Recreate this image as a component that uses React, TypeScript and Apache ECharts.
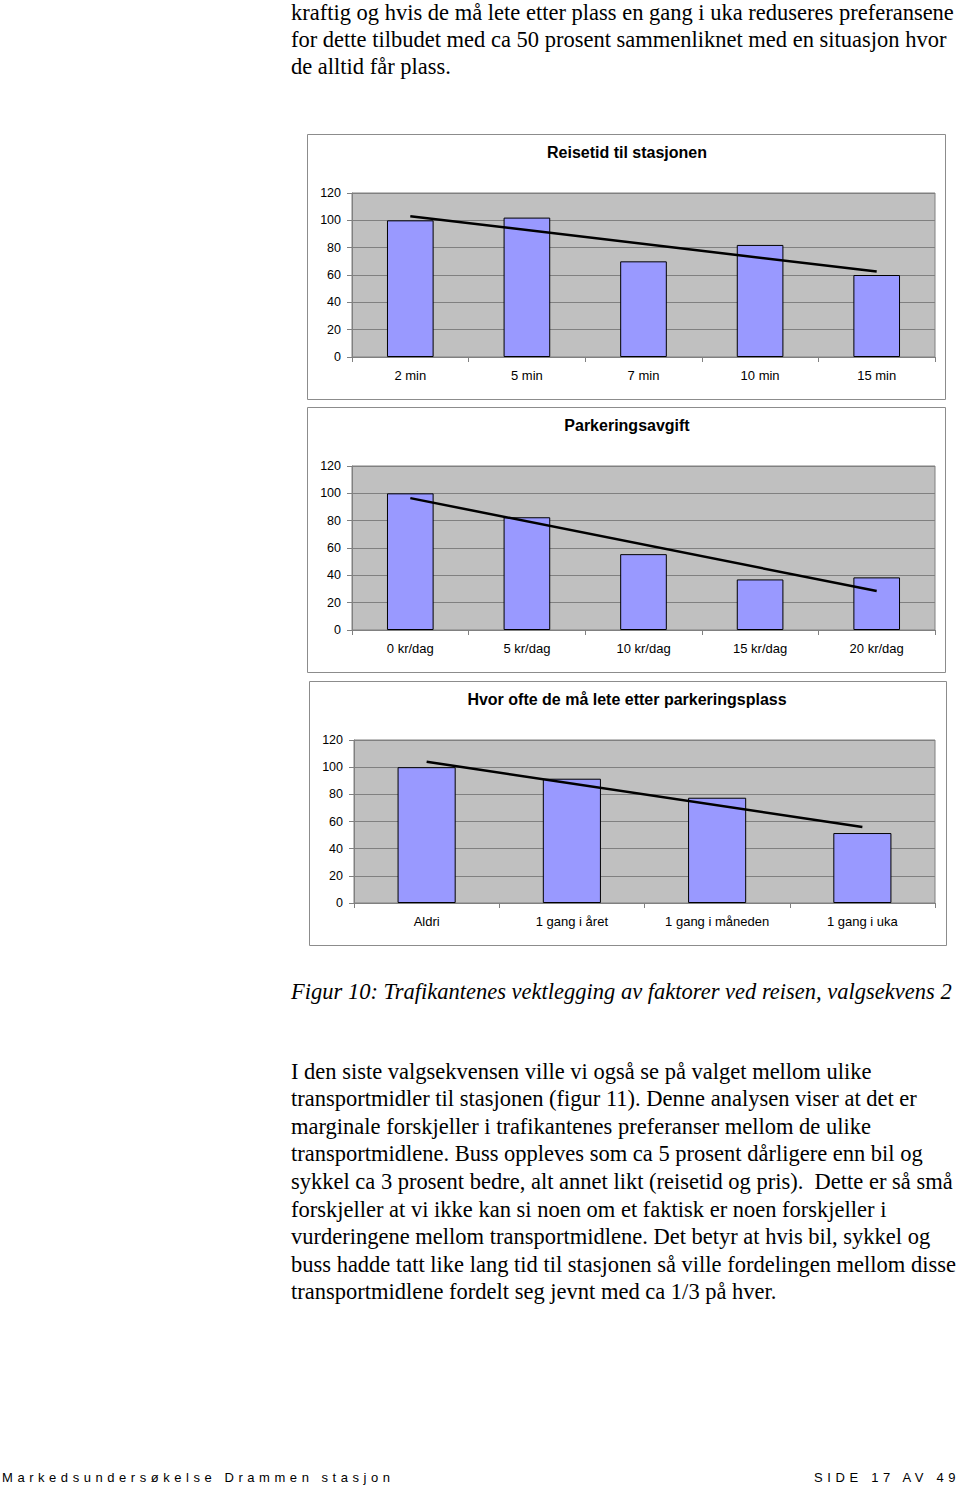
import React, { useEffect, useRef } from "react";
import * as echarts from "echarts";

// ---- Data ----
const cat1 = ["2 min", "5 min", "7 min", "10 min", "15 min"];
const val1 = [100, 102, 70, 82, 60];
const trend1 = [103, 62.5];

const cat2 = ["0 kr/dag", "5 kr/dag", "10 kr/dag", "15 kr/dag", "20 kr/dag"];
const val2 = [100, 82.5, 55.5, 37, 38.5];
const trend2 = [96.5, 28.5];

const cat3 = ["Aldri", "1 gang i året", "1 gang i måneden", "1 gang i uka"];
const val3 = [100, 91.5, 77.5, 51.5];
const trend3 = [104, 56];

const titles = ["Reisetid til stasjonen", "Parkeringsavgift", "Hvor ofte de må lete etter parkeringsplass"];

const topLines = [
  "kraftig og hvis de må lete etter plass en gang i uka reduseres preferansene",
  "for dette tilbudet med ca 50 prosent sammenliknet med en situasjon hvor",
  "de alltid får plass.",
];
const caption = "Figur 10: Trafikantenes vektlegging av faktorer ved reisen, valgsekvens 2";
const bodyLines = [
  "I den siste valgsekvensen ville vi også se på valget mellom ulike",
  "transportmidler til stasjonen (figur 11). Denne analysen viser at det er",
  "marginale forskjeller i trafikantenes preferanser mellom de ulike",
  "transportmidlene. Buss oppleves som ca 5 prosent dårligere enn bil og",
  "sykkel ca 3 prosent bedre, alt annet likt (reisetid og pris).  Dette er så små",
  "forskjeller at vi ikke kan si noen om et faktisk er noen forskjeller i",
  "vurderingene mellom transportmidlene. Det betyr at hvis bil, sykkel og",
  "buss hadde tatt like lang tid til stasjonen så ville fordelingen mellom disse",
  "transportmidlene fordelt seg jevnt med ca 1/3 på hver.",
];
const footerLeft = "Markedsundersøkelse Drammen stasjon";
const footerRight = "SIDE 17 AV 49";

const SANS = "'Liberation Sans', Arial, sans-serif";
const SERIF = "'Liberation Serif', 'Times New Roman', serif";

export default function App() {
  const ref = useRef<HTMLDivElement>(null);
  useEffect(() => {
    document.body.style.margin = "0";
    const chart = echarts.init(ref.current!, undefined, { renderer: "svg" });

    const grids = [
      { left: 352, top: 193, width: 583, height: 164 },
      { left: 352, top: 466, width: 583, height: 164 },
      { left: 354, top: 740, width: 581, height: 163 },
    ];
    const boxes = [
      { x: 307, y: 134, w: 638, h: 265 },
      { x: 307, y: 407, w: 638, h: 265 },
      { x: 309, y: 681, w: 637, h: 264 },
    ];
    const titleY = [144, 417, 691];
    const cats = [cat1, cat2, cat3];
    const vals = [val1, val2, val3];
    const trends = [trend1, trend2, trend3];

    const graphic: any[] = [];
    boxes.forEach((b) => {
      graphic.push({
        type: "rect",
        shape: { x: b.x + 0.5, y: b.y + 0.5, width: b.w, height: b.h },
        style: { fill: "none", stroke: "#8c8c8c", lineWidth: 1 },
        silent: true,
      });
    });
    const lineH = 27.6;
    const FS = 22.5;
    topLines.forEach((t, i) => {
      graphic.push({
        type: "text",
        x: 291,
        y: 12 + i * 27,
        style: { text: t, font: `${FS}px ${SERIF}`, fill: "#000", textVerticalAlign: "middle" },
      });
    });
    graphic.push({
      type: "text",
      x: 291,
      y: 991,
      style: { text: caption, font: `italic ${FS}px ${SERIF}`, fill: "#000", textVerticalAlign: "middle" },
    });
    bodyLines.forEach((t, i) => {
      graphic.push({
        type: "text",
        x: 291,
        y: 1071 + i * lineH,
        style: { text: t, font: `${FS}px ${SERIF}`, fill: "#000", textVerticalAlign: "middle" },
      });
    });

    const option: any = {
      animation: false,
      title: titles.map((t, i) => ({
        text: t,
        left: 627,
        top: titleY[i],
        padding: 0,
        textAlign: "center",
        textStyle: { fontFamily: SANS, fontSize: 16, fontWeight: "bold", color: "#000" },
      })),
      grid: grids.map((g) => ({
        ...g,
        show: true,
        backgroundColor: "#C0C0C0",
        borderColor: "#808080",
        borderWidth: 1,
      })),
      xAxis: cats.map((c, i) => ({
        type: "category",
        gridIndex: i,
        data: c,
        boundaryGap: true,
        axisLine: { show: true, lineStyle: { color: "#808080", width: 1 } },
        axisTick: { show: true, length: 5, lineStyle: { color: "#808080" } },
        axisLabel: { fontFamily: SANS, fontSize: 13, color: "#000", margin: 12 },
      })),
      yAxis: cats.map((_, i) => ({
        type: "value",
        gridIndex: i,
        min: 0,
        max: 120,
        interval: 20,
        axisLine: { show: true, lineStyle: { color: "#808080", width: 1 } },
        axisTick: { show: true, length: 5, lineStyle: { color: "#808080" } },
        axisLabel: { fontFamily: SANS, fontSize: 12.5, color: "#000", margin: 11 },
        splitLine: { show: true, lineStyle: { color: "#808080", width: 1 } },
      })),
      series: [
        ...vals.map((v, i) => ({
          type: "bar",
          xAxisIndex: i,
          yAxisIndex: i,
          data: v,
          barWidth: "40%",
          itemStyle: { color: "#9999FF", borderColor: "#000", borderWidth: 1 },
          z: 2,
        })),
        ...trends.map((t, i) => ({
          type: "line",
          xAxisIndex: i,
          yAxisIndex: i,
          data: [
            [0, t[0]],
            [cats[i].length - 1, t[1]],
          ],
          showSymbol: false,
          symbol: "none",
          lineStyle: { color: "#000", width: 2.5 },
          z: 5,
        })),
      ],
      graphic,
    };
    chart.setOption(option);
    return () => chart.dispose();
  }, []);

  const footStyle: React.CSSProperties = {
    position: "absolute",
    top: 1470,
    fontFamily: SANS,
    fontSize: 13,
    letterSpacing: "4.55px",
    whiteSpace: "nowrap",
    lineHeight: "16px",
    color: "#000",
  };

  return (
    <div style={{ position: "relative", width: 960, height: 1487, background: "#fff" }}>
      <div ref={ref} style={{ position: "absolute", left: 0, top: 0, width: 960, height: 1487 }} />
      <div style={{ ...footStyle, left: 2 }}>{footerLeft}</div>
      <div style={{ ...footStyle, left: 814, letterSpacing: "4.65px" }}>{footerRight}</div>
    </div>
  );
}
